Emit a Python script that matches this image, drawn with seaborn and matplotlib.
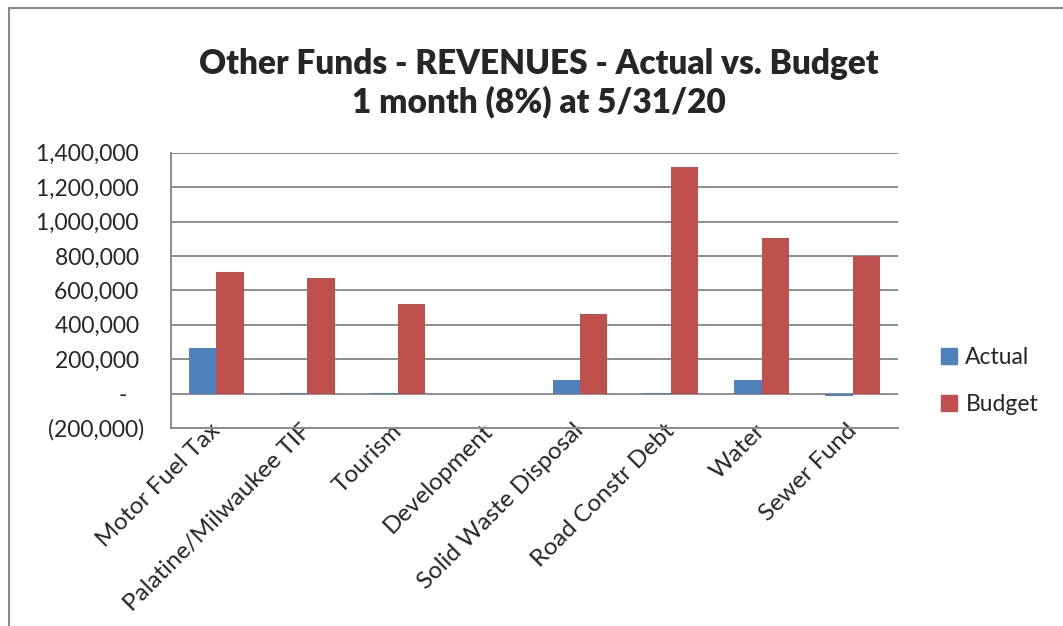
import numpy as np
import pandas as pd
import matplotlib
matplotlib.use("Agg")
import matplotlib.pyplot as plt
import matplotlib.transforms as mtransforms
import seaborn as sns
from matplotlib.ticker import FuncFormatter, MultipleLocator
from matplotlib.lines import Line2D

# --- chart data ---
funds = ["Motor Fuel Tax", "Palatine/Milwaukee TIF", "Tourism", "Development",
         "Solid Waste Disposal", "Road Constr Debt", "Water", "Sewer Fund"]
actual = [263000, 5000, 3000, 0, 78000, 3000, 78000, -15000]
budget = [707000, 674000, 520000, 0, 461000, 1315000, 906000, 800000]
series_names = ["Actual", "Budget"]
series_colors = ["#4F81BD", "#C0504D"]

df = pd.DataFrame({
    "Fund": funds * 2,
    "Series": [series_names[0]] * len(funds) + [series_names[1]] * len(funds),
    "Amount": actual + budget,
})

sns.set_style("white")
plt.rcParams["font.family"] = ["Lato", "DejaVu Sans"]

fig = plt.figure(figsize=(10.63, 6.26), dpi=100)
ax = fig.add_axes([171 / 1063, 1 - 428 / 626, (898 - 171) / 1063, (428 - 152.7) / 626])

sns.barplot(data=df, x="Fund", y="Amount", hue="Series", order=funds,
            hue_order=series_names, palette=series_colors, width=0.6,
            saturation=1, linewidth=0, ax=ax, legend=False)

ax.set_ylim(-200000, 1400000)
ax.set_xlim(-0.5, len(funds) - 0.5)
ax.yaxis.set_major_locator(MultipleLocator(200000))


def excel_fmt(v, pos):
    if abs(v) < 1:
        return "-   "
    if v < 0:
        return f"({abs(v):,.0f})"
    return f"{v:,.0f} "


ax.yaxis.set_major_formatter(FuncFormatter(excel_fmt))
ax.grid(axis="y", color="#8c8c8c", linewidth=1.4)
ax.set_axisbelow(True)
for side in ["top", "right"]:
    ax.spines[side].set_visible(False)
for side in ["left", "bottom"]:
    ax.spines[side].set_color("#8c8c8c")
    ax.spines[side].set_linewidth(1.4)

ax.tick_params(axis="y", which="major", length=4, width=1.2, color="#8c8c8c",
               labelsize=16.5, pad=15)
ax.tick_params(axis="x", length=0, labelsize=17.5, pad=0)
ax.set_xlabel("")
ax.set_ylabel("")
# nudge the rotated category labels up/left so they hug the axis like Excel's
nudge = mtransforms.ScaledTranslation(-7 / 100, 8 / 100, fig.dpi_scale_trans)
for lbl in ax.get_xticklabels():
    lbl.set_rotation(45)
    lbl.set_ha("right")
    lbl.set_va("top")
    lbl.set_rotation_mode("anchor")
    lbl.set_transform(lbl.get_transform() + nudge)

fig.text(539 / 1063, 1 - 83 / 626,
         "Other Funds - REVENUES - Actual vs. Budget\n1 month (8%) at 5/31/20",
         ha="center", va="center", fontsize=24, fontweight="heavy",
         linespacing=1.2)

handles = [Line2D([], [], marker="s", linestyle="", markersize=12,
                  markerfacecolor=c, markeredgecolor=c) for c in series_colors]
fig.legend(handles, series_names, loc="center left",
           bbox_to_anchor=(915 / 1063, 1 - 381 / 626), frameon=False,
           fontsize=16.5, handletextpad=0.1, labelspacing=1.1, handlelength=1.2)

# outer chart frame (only left and top edges are visible in the crop)
fig.add_artist(Line2D([9 / 1063, 9 / 1063], [0, 1 - 8 / 626],
                      color="#888888", linewidth=1.5, transform=fig.transFigure))
fig.add_artist(Line2D([9 / 1063, 1], [1 - 8 / 626, 1 - 8 / 626],
                      color="#888888", linewidth=1.5, transform=fig.transFigure))

fig.savefig("out.png", dpi=100)
